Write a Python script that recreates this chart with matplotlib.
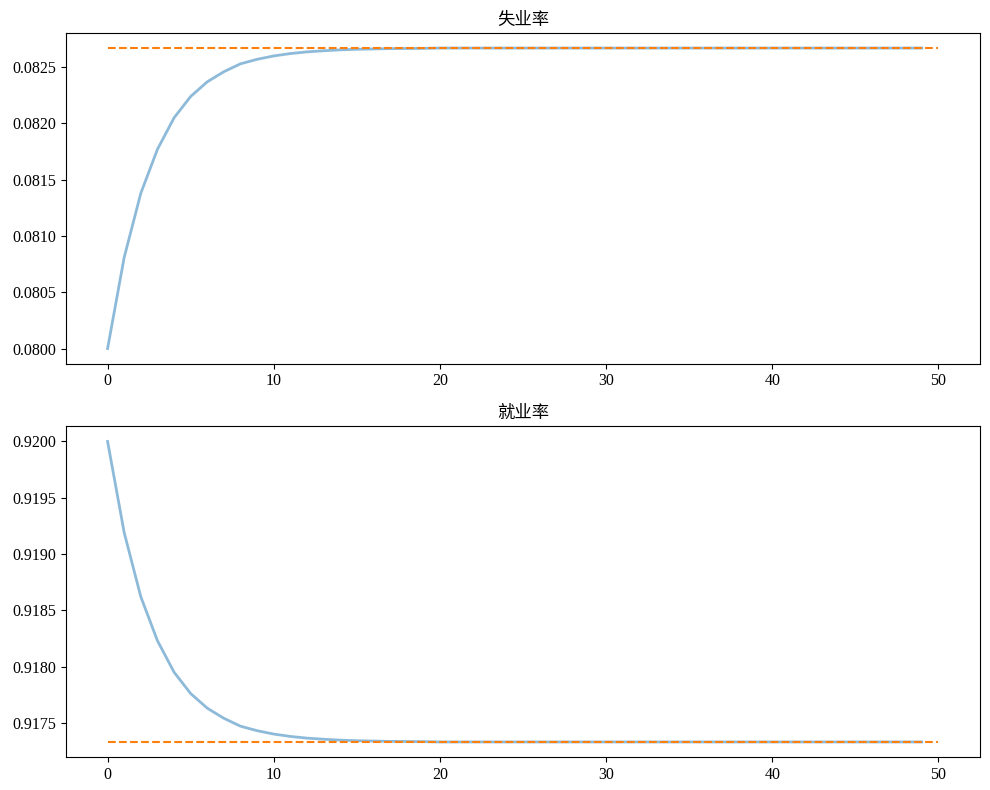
import matplotlib
matplotlib.use("Agg")
import matplotlib.pyplot as plt

plt.rcParams['font.family'] = ['Liberation Serif', 'Noto Sans CJK SC', 'DejaVu Sans']
plt.rcParams['axes.unicode_minus'] = False

periods = list(range(50))
unemployment = [0.08000, 0.08081, 0.08138, 0.08177, 0.08205, 0.08224, 0.08237, 0.08246,
                0.08253, 0.08257, 0.08260, 0.082621, 0.082636, 0.082646, 0.082654,
                0.082659, 0.082662, 0.082665, 0.082666, 0.082667] + [0.08267] * 30
employment = [0.92000, 0.91919, 0.91862, 0.91823, 0.91795, 0.91776, 0.91763, 0.91754,
              0.91747, 0.91743, 0.91740, 0.917379, 0.917364, 0.917354, 0.917346,
              0.917341, 0.917338, 0.917335, 0.917334, 0.917333] + [0.91733] * 30
u_steady = 0.08267
e_steady = 0.91733
titles = ['失业率', '就业率']
horizon = 50

fig, axes = plt.subplots(2, 1, figsize=(9.9, 7.9), dpi=100)
for ax, series, steady, title in zip(axes, [unemployment, employment],
                                     [u_steady, e_steady], titles):
    ax.plot(periods, series, lw=2, alpha=0.5, color='C0')
    ax.hlines(steady, 0, horizon, colors='C1', linestyles='--')
    ax.set_title(title, fontsize=12.5, family=['Noto Sans CJK SC'])
    ax.tick_params(labelsize=11.5)
    ax.yaxis.set_major_formatter(matplotlib.ticker.FormatStrFormatter('%.4f'))

fig.subplots_adjust(left=0.0667, right=0.9899, top=0.9582, bottom=0.0418, hspace=0.19)
fig.savefig('out.png')
